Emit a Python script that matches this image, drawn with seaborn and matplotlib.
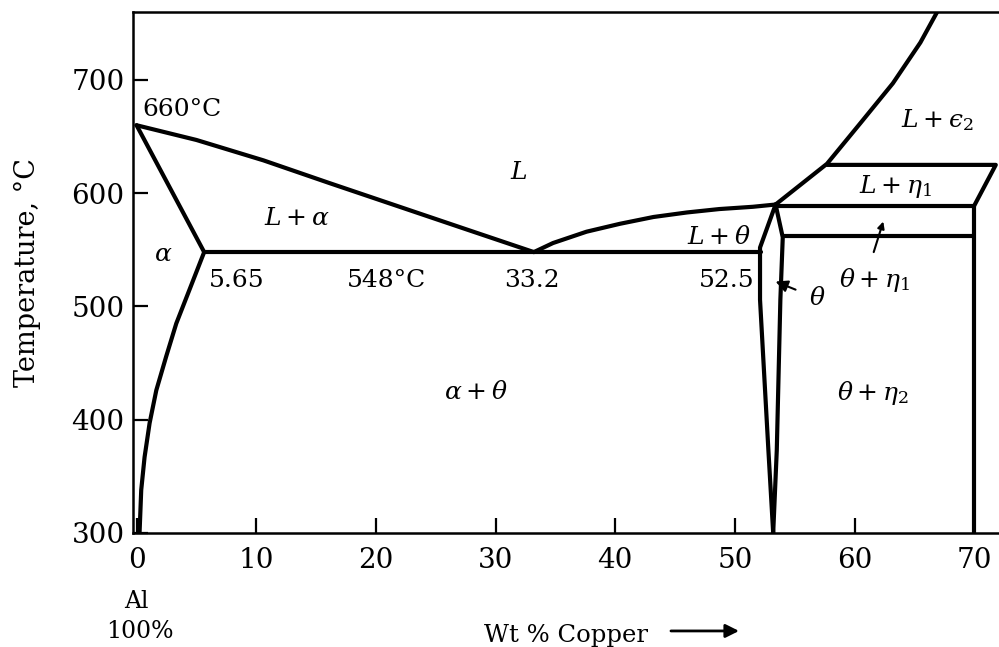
import matplotlib
matplotlib.use('Agg')
import matplotlib.pyplot as plt
import pandas as pd
import seaborn as sns

# Al-Cu phase boundaries, (wt % Cu, temperature in C)
liquidus_al_x = [0, 5.0, 10.6, 16.1, 21.7, 27.3, 33.2]
liquidus_al_t = [660, 647, 629, 609, 589, 569, 548]
solidus_al_x = [0, 5.65]
solidus_al_t = [660, 548]
solvus_al_x = [5.65, 4.43, 3.32, 2.48, 1.65, 1.09, 0.67, 0.39, 0.25]
solvus_al_t = [548, 515, 485, 456, 426, 397, 367, 338, 300]
eutectic_x = [5.65, 52.2]
eutectic_t = [548, 548]
liquidus_theta_x = [33.2, 34.8, 37.6, 40.4, 43.2, 46.0, 48.7, 51.5, 53.4]
liquidus_theta_t = [548, 556, 566, 573, 579, 583, 586, 588, 590]
theta_left_x = [53.4, 52.1, 52.1, 52.8, 53.2]
theta_left_t = [590, 552, 506, 373, 300]
theta_right_x = [53.4, 54.0, 53.8, 53.5, 53.2]
theta_right_t = [590, 561, 506, 373, 300]
peritectic_x = [53.4, 70]
peritectic_t = [589, 589]
eta_line_x = [54.0, 70]
eta_line_t = [562, 562]
eta_right_x = [70, 70]
eta_right_t = [589, 300]
upper_line_x = [57.7, 71.8, 70]
upper_line_t = [625, 625, 589]
liquidus_cu_x = [53.4, 57.7, 60.5, 63.2, 65.5, 66.9]
liquidus_cu_t = [590, 626, 662, 697, 733, 760]

x_ticks = [0, 10, 20, 30, 40, 50, 60, 70]
y_ticks = [300, 400, 500, 600, 700]

# phase field labels: (text, wt % Cu, temperature)
field_labels = [
    ('660°C', 3.8, 674),
    (r'$L$', 31.9, 618),
    (r'$L+\alpha$', 13.4, 578),
    (r'$\alpha$', 2.2, 546),
    ('5.65', 8.4, 523),
    ('548°C', 20.9, 523),
    ('33.2', 33.0, 523),
    ('52.5', 49.3, 523),
    (r'$L+\theta$', 48.7, 561),
    (r'$\theta+\eta_1$', 61.7, 523),
    (r'$L+\eta_1$', 63.4, 606),
    ('$L+\u03f5_2$', 66.9, 665),
    (r'$\alpha+\theta$', 28.4, 424),
    (r'$\theta+\eta_2$', 61.5, 424),
]

curves = {
    'liquidus_al': (liquidus_al_x, liquidus_al_t),
    'solidus_al': (solidus_al_x, solidus_al_t),
    'solvus_al': (solvus_al_x, solvus_al_t),
    'eutectic': (eutectic_x, eutectic_t),
    'liquidus_theta': (liquidus_theta_x, liquidus_theta_t),
    'theta_left': (theta_left_x, theta_left_t),
    'theta_right': (theta_right_x, theta_right_t),
    'peritectic': (peritectic_x, peritectic_t),
    'eta_line': (eta_line_x, eta_line_t),
    'eta_right': (eta_right_x, eta_right_t),
    'upper_line': (upper_line_x, upper_line_t),
    'liquidus_cu': (liquidus_cu_x, liquidus_cu_t),
}

rows = []
for name, (xs, ts) in curves.items():
    for i, (x, t) in enumerate(zip(xs, ts)):
        rows.append({'curve': name, 'order': i, 'cu': x, 'temp': t})
df = pd.DataFrame(rows)

sns.set_style('ticks')
plt.rcParams['font.family'] = ['DejaVu Serif']
plt.rcParams['mathtext.fontset'] = 'dejavuserif'
plt.rcParams['text.color'] = 'black'
plt.rcParams['axes.labelcolor'] = 'black'

fig = plt.figure(figsize=(9.99, 6.47), dpi=100)
ax = fig.add_axes([0.1331, 0.1762, 0.8669, 0.8053])

sns.lineplot(data=df, x='cu', y='temp', units='curve', estimator=None, sort=False,
             color='black', linewidth=3, ax=ax, legend=False)

for text, x, t in field_labels:
    ax.text(x, t, text, ha='center', va='center', fontsize=18, color='black')

# little arrows for the theta field and the narrow band above 562
ax.annotate(r'$\theta$', xy=(53.4, 522), xytext=(56.9, 507), fontsize=18,
            ha='center', va='center',
            arrowprops=dict(arrowstyle='-|>', lw=1.5, color='black', shrinkA=8, shrinkB=0))
ax.annotate('', xy=(62.4, 575), xytext=(61.6, 548),
            arrowprops=dict(arrowstyle='-|>', lw=1.5, color='black', shrinkA=0, shrinkB=0))

ax.set_xlim(-0.3, 72.07)
ax.set_ylim(300, 760)
ax.set_xticks(x_ticks)
ax.set_yticks(y_ticks)
ax.tick_params(direction='in', length=11, width=1.6, labelsize=20, colors='black')
ax.tick_params(axis='x', pad=10)
ax.tick_params(axis='y', pad=6)
ax.spines['right'].set_visible(False)
for side in ['left', 'bottom', 'top']:
    ax.spines[side].set_linewidth(1.8)
    ax.spines[side].set_color('black')

ax.set_ylabel('Temperature, °C', fontsize=19.5, labelpad=22)
ax.set_xlabel('Wt % Copper', fontsize=17.5, labelpad=36)
ax.annotate('', xy=(0.703, -0.188), xytext=(0.618, -0.188), xycoords='axes fraction',
            arrowprops=dict(arrowstyle='-|>', lw=2, color='black', mutation_scale=20))
ax.text(0, -0.132, 'Al', transform=ax.get_xaxis_transform(), ha='center', va='center', fontsize=17)
ax.text(0.3, -0.190, '100%', transform=ax.get_xaxis_transform(), ha='center', va='center', fontsize=17)

fig.savefig('out.png', dpi=100)
